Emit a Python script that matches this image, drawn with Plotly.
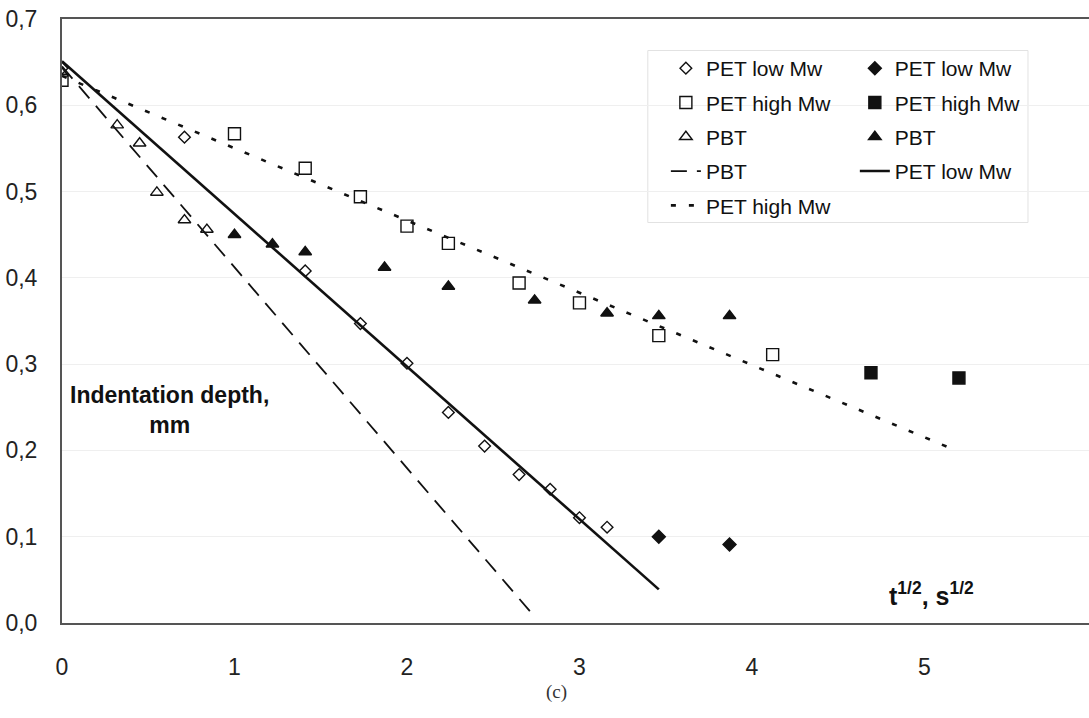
import plotly.graph_objects as go

# Indentation depth (mm) against square root of time (s^1/2)
pet_low_open_x = [0.00, 0.71, 1.41, 1.73, 2.00, 2.24, 2.45, 2.65, 2.83, 3.00, 3.16]
pet_low_open_y = [0.643, 0.563, 0.408, 0.347, 0.301, 0.244, 0.205, 0.172, 0.155, 0.122, 0.111]
pet_low_fill_x = [3.46, 3.87]
pet_low_fill_y = [0.100, 0.091]

pet_high_open_x = [0.00, 1.00, 1.41, 1.73, 2.00, 2.24, 2.65, 3.00, 3.46, 4.12]
pet_high_open_y = [0.629, 0.567, 0.527, 0.494, 0.460, 0.440, 0.394, 0.371, 0.333, 0.311]
pet_high_fill_x = [4.69, 5.20]
pet_high_fill_y = [0.290, 0.284]

pbt_open_x = [0.00, 0.32, 0.45, 0.55, 0.71, 0.84]
pbt_open_y = [0.637, 0.577, 0.556, 0.499, 0.467, 0.456]
pbt_fill_x = [1.00, 1.22, 1.41, 1.87, 2.24, 2.74, 3.16, 3.46, 3.87]
pbt_fill_y = [0.450, 0.439, 0.430, 0.412, 0.390, 0.374, 0.359, 0.356, 0.356]

# Linear fits
pbt_fit_x = [0.0, 2.72]
pbt_fit_y = [0.645, 0.012]
pet_low_fit_x = [0.0, 3.46]
pet_low_fit_y = [0.651, 0.039]
pet_high_fit_x = [0.0, 5.17]
pet_high_fit_y = [0.634, 0.201]

y_ticks = [0.0, 0.1, 0.2, 0.3, 0.4, 0.5, 0.6, 0.7]
y_tick_text = ["0,0", "0,1", "0,2", "0,3", "0,4", "0,5", "0,6", "0,7"]
x_ticks = [0, 1, 2, 3, 4, 5]
x_tick_text = ["0", "1", "2", "3", "4", "5"]

FONT = "Liberation Sans, Arial, sans-serif"
INK = "#111111"

fig = go.Figure()


def add_markers(x, y, name, symbol, size, legend, group, lw=1.4):
    fig.add_trace(go.Scatter(
        x=x, y=y, mode="markers", name=name,
        legend=legend, legendgroup=group,
        marker=dict(symbol=symbol, size=size, color=INK,
                    line=dict(color=INK, width=lw)),
    ))


def add_line(x, y, name, dash, width, legend, group):
    fig.add_trace(go.Scatter(
        x=x, y=y, mode="lines", name=name,
        legend=legend, legendgroup=group,
        line=dict(color=INK, width=width, dash=dash),
    ))


# fit lines first so the markers sit on top
add_line(pbt_fit_x, pbt_fit_y, "PBT", "16px,10px", 1.8, "legend", "g4")
add_line(pet_high_fit_x, pet_high_fit_y, "PET high Mw", "5px,13px", 2.6, "legend", "g5")
add_line(pet_low_fit_x, pet_low_fit_y, "PET low Mw", "solid", 2.6, "legend2", "h4")

add_markers(pet_low_open_x, pet_low_open_y, "PET low Mw", "diamond-open", 9, "legend", "g1")
add_markers(pet_high_open_x, pet_high_open_y, "PET high Mw", "square-open", 12, "legend", "g2")
add_markers(pbt_open_x, pbt_open_y, "PBT", "triangle-up-open", 11, "legend", "g3")
add_markers(pet_low_fill_x, pet_low_fill_y, "PET low Mw", "diamond", 10, "legend2", "h1")
add_markers(pet_high_fill_x, pet_high_fill_y, "PET high Mw", "square", 12, "legend2", "h2")
add_markers(pbt_fill_x, pbt_fill_y, "PBT", "triangle-up", 11, "legend2", "h3")

# legend order: markers first, then the fit lines, in each column
order = [3, 4, 5, 0, 1, 6, 7, 8, 2]
fig.data = tuple(fig.data[i] for i in order)

legend_common = dict(
    font=dict(family=FONT, size=21, color=INK),
    bgcolor="rgba(0,0,0,0)", borderwidth=0,
    xanchor="left", yanchor="top", tracegroupgap=4,
    itemclick=False, itemdoubleclick=False,
)

fig.update_layout(
    width=1089, height=718,
    margin=dict(l=62, r=0, t=19, b=95),
    paper_bgcolor="white", plot_bgcolor="white",
    showlegend=True,
    legend=dict(x=0.588, y=0.952, **legend_common),
    legend2=dict(x=0.772, y=0.952, **legend_common),
    font=dict(family=FONT, color=INK),
    xaxis=dict(
        range=[0, 5.954], tickvals=x_ticks, ticktext=x_tick_text,
        showgrid=False, zeroline=False,
        showline=True, linecolor="#555555", linewidth=2, mirror=True,
        ticks="", ticklabelstandoff=22,
        tickfont=dict(family=FONT, size=23, color="#222222"),
    ),
    yaxis=dict(
        range=[0, 0.7], tickvals=y_ticks, ticktext=y_tick_text,
        showgrid=True, gridcolor="#efefef", gridwidth=1, zeroline=False,
        showline=True, linecolor="#555555", linewidth=2,
        ticks="", ticklabelstandoff=18,
        tickfont=dict(family=FONT, size=23, color="#222222"),
    ),
    shapes=[dict(
        type="rect", xref="paper", yref="paper",
        x0=0.5704, x1=0.9406, y0=0.6631, y1=0.9478,
        line=dict(color="#e2e2e2", width=1), fillcolor="white", layer="below",
    )],
    annotations=[
        dict(x=0.625, y=0.247, xref="x", yref="y", showarrow=False,
             text="<b>Indentation depth,<br>mm</b>", align="center",
             font=dict(family=FONT, size=23, color=INK)),
        dict(x=5.04, y=0.034, xref="x", yref="y", showarrow=False,
             text="<b>t<sup>1/2</sup>, s<sup>1/2</sup></b>",
             font=dict(family=FONT, size=25, color=INK)),
        dict(x=0.4815, y=-0.135, xref="paper", yref="paper", showarrow=False,
             text="(c)",
             font=dict(family="Liberation Serif, Times New Roman, serif",
                       size=19, color="#333333")),
    ],
)

fig.write_html("out.html")
